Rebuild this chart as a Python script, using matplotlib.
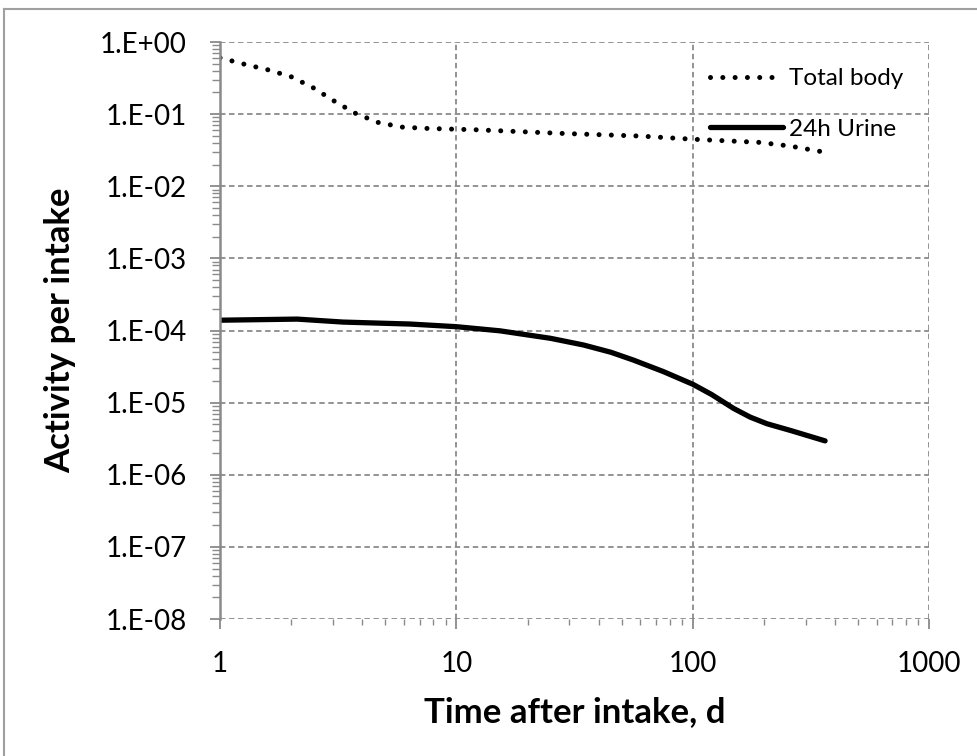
import numpy as np
import matplotlib.pyplot as plt
from matplotlib.ticker import LogLocator, NullFormatter
from matplotlib.lines import Line2D

# Data
dias_corpo = [1, 1.26, 1.59, 2.0, 2.48, 3.03, 3.72, 4.65, 5.87, 7.44, 12, 28.3, 60, 100, 192, 258, 345]
corpo_total = [0.605, 0.495, 0.413, 0.330, 0.232, 0.153, 0.1035, 0.0769, 0.0662, 0.0635,
               0.0608, 0.054, 0.0497, 0.0449, 0.0406, 0.0361, 0.0305]

dias_urina = [1, 2.12, 3.31, 6.36, 10, 15.3, 25, 34.5, 45, 56, 75, 100, 120, 149, 175, 206, 260, 363]
urina_24h = [1.39e-4, 1.44e-4, 1.31e-4, 1.23e-4, 1.13e-4, 9.9e-5, 7.8e-5, 6.3e-5, 5.0e-5, 3.9e-5,
             2.7e-5, 1.8e-5, 1.3e-5, 8.3e-6, 6.3e-6, 5.1e-6, 4.1e-6, 2.95e-6]

ticks_y = [1e0, 1e-1, 1e-2, 1e-3, 1e-4, 1e-5, 1e-6, 1e-7, 1e-8]
rotulos_y = ['1.E+00', '1.E-01', '1.E-02', '1.E-03', '1.E-04', '1.E-05', '1.E-06', '1.E-07', '1.E-08']
ticks_x = [1, 10, 100, 1000]
rotulos_x = ['1', '10', '100', '1000']

plt.rcParams['font.family'] = ['Lato', 'DejaVu Sans']
cinza = '#8a8a8a'

fig = plt.figure(figsize=(9.78, 7.56), dpi=100)
ax = fig.add_axes([0.225, 0.1812, 0.725, 0.7632])

ax.plot(dias_corpo, corpo_total, color='black', linewidth=3.6,
        linestyle=(0, (0.01, 2.45)), dash_capstyle='round', label='Total body')
ax.plot(dias_urina, urina_24h, color='black', linewidth=3.8,
        solid_capstyle='round', solid_joinstyle='round', label='24h Urine')

ax.set_xscale('log')
ax.set_yscale('log')
ax.set_xlim(1, 1000)
ax.set_ylim(1e-8, 1)

ax.set_xticks(ticks_x)
ax.set_xticklabels(rotulos_x)
ax.set_yticks(ticks_y)
ax.set_yticklabels(rotulos_y)
ax.xaxis.set_minor_locator(LogLocator(base=10, subs=np.arange(2, 10)))
ax.yaxis.set_minor_locator(LogLocator(base=10, subs=np.arange(2, 10), numticks=20))
ax.xaxis.set_minor_formatter(NullFormatter())
ax.yaxis.set_minor_formatter(NullFormatter())

ax.tick_params(axis='both', which='major', labelsize=20, colors=cinza, labelcolor='black')
ax.tick_params(axis='y', which='major', length=7, width=1.3, direction='out', pad=17)
ax.tick_params(axis='y', which='minor', length=6, width=1.0, direction='out', color=cinza)
ax.tick_params(axis='x', which='major', length=7, width=1.3, direction='out', pad=16)
ax.tick_params(axis='x', which='minor', length=4, width=1.0, direction='out', color=cinza)

ax.grid(True, which='major', color=cinza, linestyle=(0, (3, 2)), linewidth=1.3)

for lado in ['top', 'right', 'bottom']:
    ax.spines[lado].set_visible(False)
ax.spines['left'].set_color(cinza)
ax.spines['left'].set_linewidth(1.8)

ax.set_xlabel('Time after intake, d', fontsize=25, fontweight='bold', labelpad=14)
ax.set_ylabel('Activity per intake', fontsize=25, fontweight='bold', labelpad=17)

ax.legend(loc='upper right', bbox_to_anchor=(0.963, 0.955), frameon=False, fontsize=17.5,
          handlelength=3.0, handletextpad=0.25, labelspacing=1.22,
          borderaxespad=0, borderpad=0)

# moldura externa (só topo e esquerda visíveis)
fig.add_artist(Line2D([0.004, 1.0], [0.988, 0.988], transform=fig.transFigure, color='#a0a0a0', linewidth=1.5))
fig.add_artist(Line2D([0.004, 0.004], [0.0, 0.988], transform=fig.transFigure, color='#a0a0a0', linewidth=1.5))

fig.savefig('out.png', dpi=100)
